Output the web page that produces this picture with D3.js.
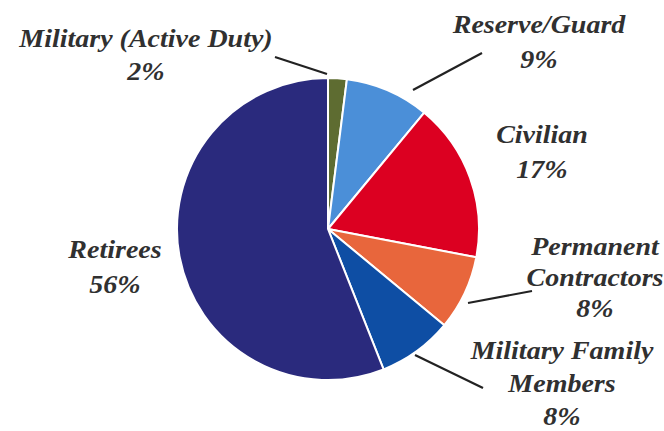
<!DOCTYPE html>
<html><head><meta charset="utf-8">
<script src="https://cdn.jsdelivr.net/npm/d3@7"></script>
<style>body{margin:0;background:#fff}svg{display:block}</style>
</head><body>
<script>
const categories = ["Military (Active Duty)","Reserve/Guard","Civilian","Permanent Contractors","Military Family Members","Retirees"];
const values = [2, 9, 17, 8, 8, 56];
const colors = ["#5e6c31","#4b8fd8","#dc0021","#e8663c","#0e4ea4","#2a2a7d"];
const labelLines = [["Military (Active Duty)","2%"],["Reserve/Guard","9%"],["Civilian","17%"],["Permanent","Contractors","8%"],["Military Family","Members","8%"],["Retirees","56%"]];

// layout (positions only)
const W=664,H=431,cx=328,cy=229,R=151;
const layout = [
  {x:146,y:47,lh:33, line:[[275,57],[327,74]]},
  {x:539,y:33,lh:35, line:[[482,53],[413,90]]},
  {x:542,y:143,lh:35, line:null},
  {x:595,y:255,lh:31, line:[[532,291],[468,303]]},
  {x:562,y:359,lh:33, line:[[415,355],[483,388]]},
  {x:115,y:258,lh:35, line:null}
];

const svg=d3.select("body").append("svg").attr("width",W).attr("height",H);
const pie=d3.pie().sort(null).value(d=>d)(values);
const arc=d3.arc().innerRadius(0).outerRadius(R);
const g=svg.append("g").attr("transform",`translate(${cx},${cy})`);
g.selectAll("path").data(pie).join("path")
  .attr("d",arc).attr("fill",(d,i)=>colors[i])
  .attr("stroke","#fff").attr("stroke-width",2).attr("stroke-linejoin","round");

svg.selectAll("line.lead").data(layout.filter(l=>l.line)).join("line")
  .attr("class","lead")
  .attr("x1",d=>d.line[0][0]).attr("y1",d=>d.line[0][1])
  .attr("x2",d=>d.line[1][0]).attr("y2",d=>d.line[1][1])
  .attr("stroke","#222").attr("stroke-width",2.2);

const lbl=svg.selectAll("g.lbl").data(labelLines).join("g").attr("class","lbl");
lbl.each(function(lines,i){
  const L=layout[i];
  const t=d3.select(this).append("text")
    .attr("text-anchor","middle")
    .attr("font-family","'Liberation Serif', 'Times New Roman', serif")
    .attr("font-style","italic").attr("font-weight","bold")
    .attr("font-size",25).attr("fill","#303030")
    .attr("transform",`translate(${L.x},${L.y}) scale(1.12,1)`);
  lines.forEach((s,j)=>{
    t.append("tspan").attr("x",0).attr("y",j*L.lh).text(s);
  });
});
</script>
</body></html>
